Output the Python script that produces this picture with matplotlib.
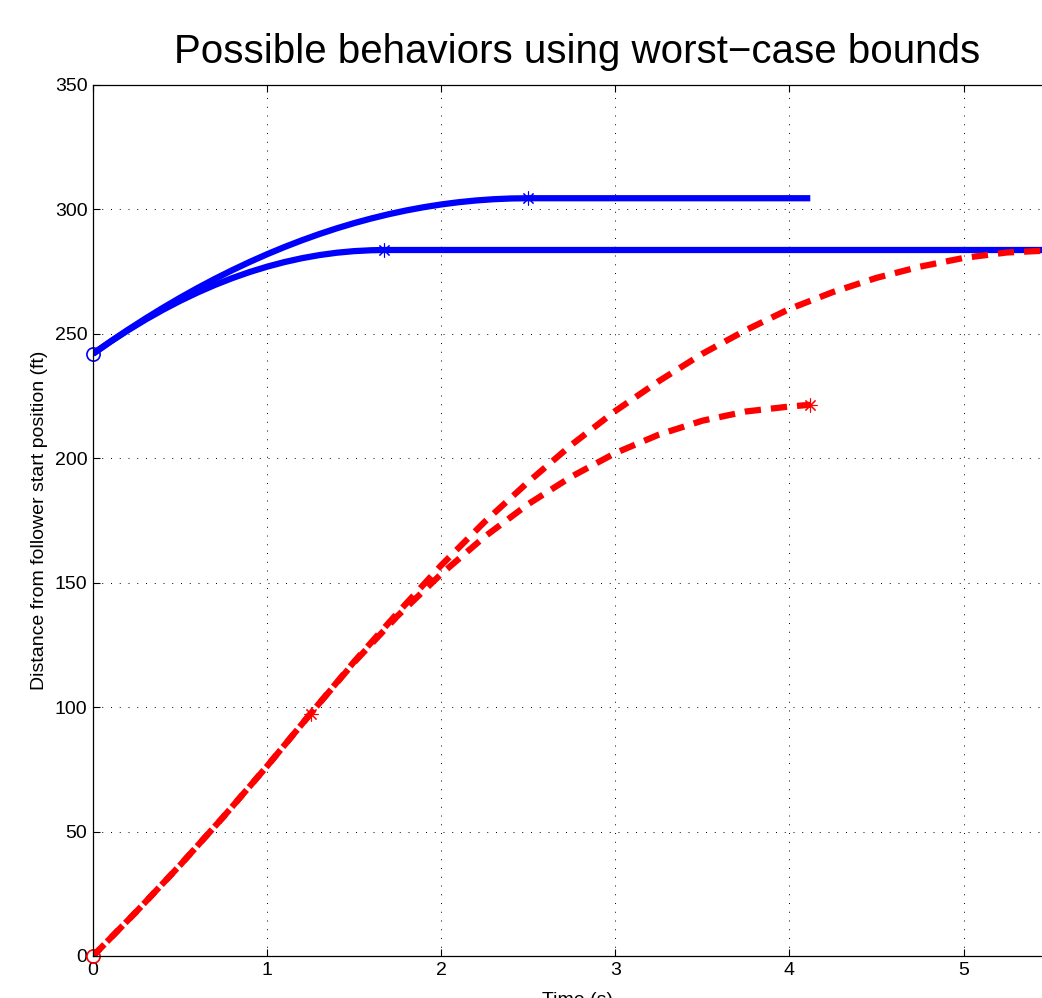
import matplotlib
matplotlib.use("Agg")
import matplotlib.pyplot as plt

plt.rcParams['font.family'] = ['Liberation Sans', 'DejaVu Sans']

# leader trajectories (blue), two braking cases
lead_t_a = [0, 0.1, 0.2, 0.3, 0.4, 0.5, 0.6, 0.7, 0.8, 0.9, 1.0, 1.1, 1.2, 1.3,
            1.4, 1.5, 1.6, 1.7, 1.8, 1.9, 2.0, 2.1, 2.2, 2.3, 2.4, 2.5, 4.12]
lead_d_a = [242, 246.9, 251.6, 256.1, 260.4, 264.5, 268.4, 272.1, 275.6, 278.9,
            282, 284.9, 287.6, 290.1, 292.4, 294.5, 296.4, 298.1, 299.6, 300.9,
            302, 302.9, 303.6, 304.1, 304.4, 304.5, 304.5]
lead_t_b = [0, 0.1, 0.2, 0.3, 0.4, 0.5, 0.6, 0.7, 0.8, 0.9, 1.0, 1.1, 1.2, 1.3,
            1.4, 1.5, 1.6, 1.67, 5.55]
lead_d_b = [242, 246.85, 251.4, 255.65, 259.6, 263.25, 266.6, 269.65, 272.4,
            274.85, 277, 278.85, 280.4, 281.65, 282.6, 283.25, 283.6, 283.7, 283.7]

# follower trajectories (red)
foll_t_a = [0, 0.25, 0.5, 0.75, 1.0, 1.25, 1.5, 1.75, 2.0, 2.25, 2.5,
            2.75, 3.0, 3.25, 3.5, 3.75, 4.0, 4.12]
foll_d_a = [0, 17.9, 36.5, 56, 76.3, 97.4, 118, 136.7, 153.5, 168.5, 181.6,
            192.7, 202.1, 209.5, 215.1, 218.8, 220.8, 221.5]
foll_t_b = [0, 0.25, 0.5, 0.75, 1.0, 1.25, 1.5, 1.75, 2.0, 2.25, 2.5, 2.75,
            3.0, 3.25, 3.5, 3.75, 4.0, 4.25, 4.5, 4.75, 5.0, 5.25, 5.55]
foll_d_b = [0, 17.9, 36.5, 56, 76.3, 97.4, 118.3, 137.9, 157, 174.5, 190.5, 205.5,
            219, 231, 242, 251.5, 260, 266.8, 272.5, 277, 280.5, 282.7, 283.7]

# marked points
start_t = [0, 0]
start_d = [242, 0]
lead_stop_t = [2.5, 1.67]
lead_stop_d = [304.5, 283.7]
foll_mark_t = [1.25, 4.12]
foll_mark_d = [97.4, 221.5]

x_ticks = [0, 1, 2, 3, 4, 5]
y_ticks = [0, 50, 100, 150, 200, 250, 300, 350]

fig = plt.figure(figsize=(10.42, 9.98), dpi=100)
# axes runs a little past the right edge, like the cropped original
ax = fig.add_axes([93/1042, 42/998, 968/1042, 871/998])

blue_kw = dict(color='#0000ff', linewidth=4.5, solid_capstyle='butt')

ax.plot(lead_t_a, lead_d_a, **blue_kw)
ax.plot(lead_t_b, lead_d_b, **blue_kw)
ax.plot(foll_t_a, foll_d_a, color='#ff0000', linewidth=4.5, linestyle=(0, (2.6, 1.6)))
ax.plot(foll_t_b, foll_d_b, color='#ff0000', linewidth=4.5, linestyle=(1.0, (2.6, 1.6)))

ast = (8, 2, 0)
ax.plot(start_t[:1], start_d[:1], 'o', mfc='none', mec='#0000ff', ms=9.5, mew=1.2, clip_on=False)
ax.plot(start_t[1:], start_d[1:], 'o', mfc='none', mec='#ff0000', ms=9.5, mew=1.2, clip_on=False)
ax.plot(lead_stop_t, lead_stop_d, ls='none', marker=ast, color='#0000ff', ms=10, mew=0.8)
ax.plot(foll_mark_t, foll_mark_d, ls='none', marker=ast, color='#ff0000', ms=10, mew=0.8)

ax.set_xlim(0, 5.56)
ax.set_ylim(0, 350)
ax.set_xticks(x_ticks)
ax.set_yticks(y_ticks)
ax.tick_params(direction='in', length=5, width=0.8, top=True, right=True,
               labelsize=14, pad=4)
ax.grid(True, color='black', linewidth=0.7, linestyle=(0, (1, 8)))
for s in ax.spines.values():
    s.set_linewidth(0.9)

ax.set_title('Possible behaviors using worst\u2212case bounds', fontsize=29, pad=16)
ax.set_xlabel('Time (s)', fontsize=14, labelpad=10)
ax.set_ylabel('Distance from follower start position (ft)', fontsize=14)
ax.yaxis.set_label_coords(-0.047, 0.5)

fig.savefig('out.png', dpi=100, facecolor='white')
